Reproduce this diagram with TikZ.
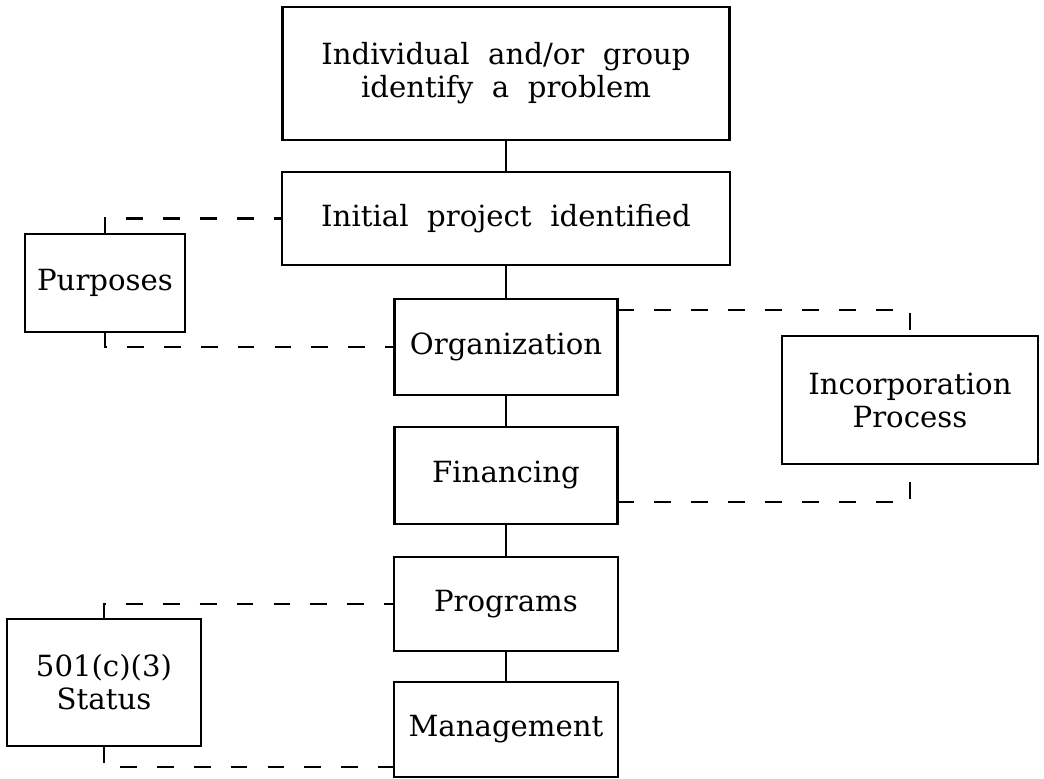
\documentclass[tikz,border=0pt]{standalone}
\usepackage{fontspec}
\setmainfont{DejaVu Serif}[WordSpace=2]
\usepackage{tikz}

\begin{document}
\begin{tikzpicture}[
        box/.style={draw,line width=0.8pt,inner sep=0pt,outer sep=0pt,align=center,
                    font=\fontsize{8.3}{9.4}\selectfont},
        link/.style={line width=0.8pt},
        dashlink/.style={line width=0.8pt,dash pattern=on 4.8pt off 5.7pt}]
        \useasboundingbox (0,0) rectangle (10.44,-7.79);

        % Main column
        \node (Pproblem)  at (5.06,-0.735) [box,minimum width=4.47cm,minimum height=1.33cm] {Individual and/or group\\identify a problem};
        \node (Pinitial)  at (5.06,-2.185) [box,minimum width=4.48cm,minimum height=0.93cm] {Initial project identified};
        \node (Porg)      at (5.06,-3.47)  [box,minimum width=2.23cm,minimum height=0.96cm] {Organization};
        \node (Pfinance)  at (5.06,-4.755) [box,minimum width=2.23cm,minimum height=0.97cm] {Financing};
        \node (Pprograms) at (5.06,-6.04)  [box,minimum width=2.24cm,minimum height=0.94cm] {Programs};
        \node (Pmanage)   at (5.06,-7.295) [box,minimum width=2.24cm,minimum height=0.95cm] {Management};

        % Side boxes
        \node (Spurposes) at (1.05,-2.83)  [box,minimum width=1.60cm,minimum height=0.98cm] {Purposes};
        \node (Sstatus)   at (1.04,-6.825) [box,minimum width=1.94cm,minimum height=1.27cm] {501(c)(3)\\Status};
        \node (Sincorp)   at (9.10,-4.00)  [box,minimum width=2.56cm,minimum height=1.28cm] {Incorporation\\Process};

        % Solid links down the column
        \foreach \a/\b in {Pproblem/Pinitial,Pinitial/Porg,Porg/Pfinance,Pfinance/Pprograms,Pprograms/Pmanage}
            \draw[link] (\a.south) -- (\b.north);

        % Dashed side links
        \draw[dashlink] (Spurposes.north) |- (Pinitial.west);
        \draw[dashlink] (Spurposes.south) |- (Porg.west);
        \draw[dashlink] ([yshift=-0.11cm]Porg.north east) -| (Sincorp.north);
        \draw[dashlink] ([yshift=0.22cm]Pfinance.south east) -| (Sincorp.south);
        \draw[dashlink] (Sstatus.north) |- (Pprograms.west);
        \draw[dashlink] (Sstatus.south) |- ([yshift=0.1cm]Pmanage.south west);
    \end{tikzpicture}
\end{document}
